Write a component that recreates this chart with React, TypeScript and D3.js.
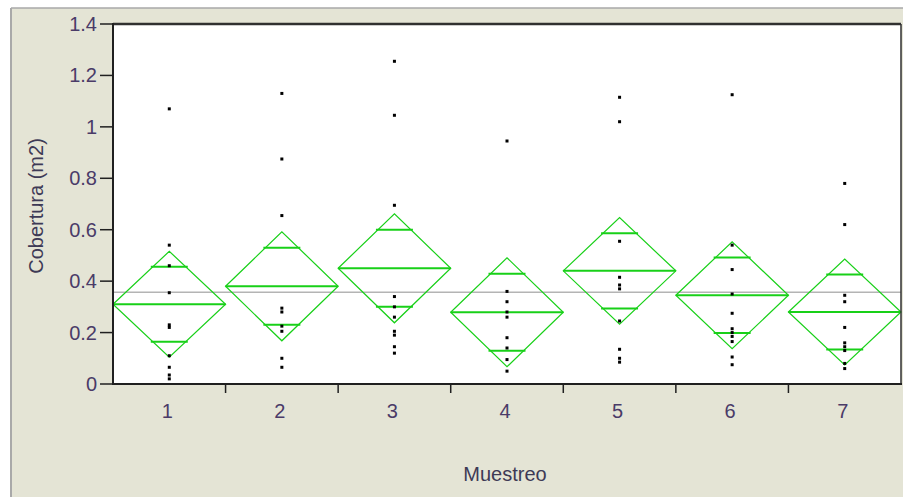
import React from "react";
import * as d3 from "d3";

// Sampling rounds on the x axis
const muestreos = ["1", "2", "3", "4", "5", "6", "7"];

// Individual coverage observations (m2) per sampling round
const obs1 = [1.07, 0.54, 0.46, 0.355, 0.23, 0.22, 0.11, 0.065, 0.035, 0.02];
const obs2 = [1.13, 0.875, 0.655, 0.295, 0.28, 0.225, 0.205, 0.1, 0.065];
const obs3 = [1.255, 1.045, 0.695, 0.34, 0.3, 0.26, 0.205, 0.19, 0.145, 0.12];
const obs4 = [0.945, 0.36, 0.32, 0.28, 0.26, 0.18, 0.14, 0.095, 0.05];
const obs5 = [1.115, 1.02, 0.555, 0.415, 0.385, 0.37, 0.245, 0.135, 0.1, 0.085];
const obs6 = [1.125, 0.54, 0.445, 0.35, 0.275, 0.215, 0.2, 0.185, 0.165, 0.105, 0.075];
const obs7 = [0.78, 0.62, 0.345, 0.32, 0.22, 0.16, 0.145, 0.13, 0.08, 0.06];
const observaciones = [obs1, obs2, obs3, obs4, obs5, obs6, obs7];

// Group means and 95% confidence half-widths (means diamonds)
const medias = [0.31, 0.38, 0.45, 0.279, 0.44, 0.345, 0.28];
const ic95 = [0.206, 0.212, 0.212, 0.212, 0.207, 0.208, 0.206];

// Grand mean reference line
const mediaGeneral = 0.357;

// Y axis ticks
const yTicks = [0, 0.2, 0.4, 0.6, 0.8, 1, 1.2, 1.4];

const W = 903;
const H = 497;
const plot = { left: 113, right: 901, top: 24, bottom: 384 };
const labelColor = "#4a3b68";
const green = "#18d018";
const font = "'Liberation Sans', Arial, sans-serif";
const fs = 20;

export default function App() {
  const x = d3
    .scaleBand<string>()
    .domain(muestreos)
    .range([plot.left, plot.right])
    .padding(0);
  const y = d3.scaleLinear().domain([0, 1.4]).range([plot.bottom, plot.top]);
  const bw = x.bandwidth();
  const boundaries = muestreos.slice(1).map((m) => x(m) as number);

  return (
    <svg
      width={W}
      height={H}
      style={{ position: "absolute", left: 0, top: 0, display: "block" }}
      fontFamily={font}
    >
      <rect x={0} y={0} width={W} height={H} fill="#ffffff" />
      <rect x={11} y={8} width={W - 11} height={H - 8} fill="#e4e4d5" />
      <line x1={11} y1={8} x2={W} y2={8} stroke="#a9a9a9" strokeWidth={1.5} />
      <line x1={11} y1={8} x2={11} y2={H} stroke="#a9a9a9" strokeWidth={2} />

      {/* plot area */}
      <rect
        x={plot.left}
        y={plot.top}
        width={plot.right - plot.left}
        height={plot.bottom - plot.top}
        fill="#ffffff"
      />

      {/* grand mean */}
      <line
        x1={plot.left}
        x2={plot.right}
        y1={y(mediaGeneral)}
        y2={y(mediaGeneral)}
        stroke="#b4b4b4"
        strokeWidth={1.5}
      />

      {/* means diamonds with overlap marks */}
      {muestreos.map((m, i) => {
        const x0 = x(m) as number;
        const x1 = x0 + bw;
        const cx = x0 + bw / 2;
        const mean = medias[i];
        const ci = ic95[i];
        const top = y(mean + ci);
        const bot = y(mean - ci);
        const ym = y(mean);
        const ov = ci / Math.SQRT2;
        const halfW = (bw / 2) * (1 - ov / ci) + 2;
        const path = `M${x0},${ym}L${cx},${top}L${x1},${ym}L${cx},${bot}Z`;
        return (
          <g key={m}>
            <path d={path} fill="none" stroke={green} strokeWidth={1.2} />
            <line x1={x0} x2={x1} y1={ym} y2={ym} stroke={green} strokeWidth={2} />
            <line
              x1={cx - halfW}
              x2={cx + halfW}
              y1={y(mean + ov)}
              y2={y(mean + ov)}
              stroke={green}
              strokeWidth={2}
            />
            <line
              x1={cx - halfW}
              x2={cx + halfW}
              y1={y(mean - ov)}
              y2={y(mean - ov)}
              stroke={green}
              strokeWidth={2}
            />
          </g>
        );
      })}

      {/* observations */}
      {observaciones.map((vals, i) => {
        const cx = (x(muestreos[i]) as number) + bw / 2;
        return vals.map((v, j) => (
          <rect
            key={`${i}-${j}`}
            x={cx - 1.5}
            y={y(v) - 1.5}
            width={3}
            height={3}
            fill="#000000"
          />
        ));
      })}

      {/* frame borders */}
      <line x1={plot.left} x2={plot.right} y1={plot.top} y2={plot.top} stroke="#303030" strokeWidth={2.5} />
      <line x1={plot.right} x2={plot.right} y1={plot.top} y2={plot.bottom} stroke="#303030" strokeWidth={1.5} />
      <line x1={plot.left} x2={plot.right + 1} y1={plot.bottom} y2={plot.bottom} stroke="#202020" strokeWidth={2} />
      <line x1={plot.left} x2={plot.left} y1={plot.top - 1} y2={plot.bottom + 1} stroke="#202020" strokeWidth={2} />

      {/* y axis */}
      {yTicks.map((t) => (
        <g key={t}>
          <line x1={100} x2={plot.left} y1={y(t)} y2={y(t)} stroke="#202020" strokeWidth={1.5} />
          <text
            x={97}
            y={y(t)}
            dy="0.35em"
            textAnchor="end"
            fontSize={fs}
            fill={labelColor}
          >
            {d3.format("~g")(t)}
          </text>
        </g>
      ))}
      <text
        transform={`translate(43,206) rotate(-90)`}
        textAnchor="middle"
        fontSize={fs}
        fill="#3e3a55"
      >
        Cobertura (m2)
      </text>

      {/* x axis */}
      {boundaries.map((b) => (
        <line key={b} x1={b} x2={b} y1={plot.bottom} y2={plot.bottom + 9} stroke="#202020" strokeWidth={1.5} />
      ))}
      {muestreos.map((m) => (
        <text
          key={m}
          x={(x(m) as number) + bw / 2 - 2}
          y={411}
          dy="0.35em"
          textAnchor="middle"
          fontSize={fs}
          fill={labelColor}
        >
          {m}
        </text>
      ))}
      <text x={505} y={474} dy="0.35em" textAnchor="middle" fontSize={fs} fill="#3e3a55">
        Muestreo
      </text>
    </svg>
  );
}
